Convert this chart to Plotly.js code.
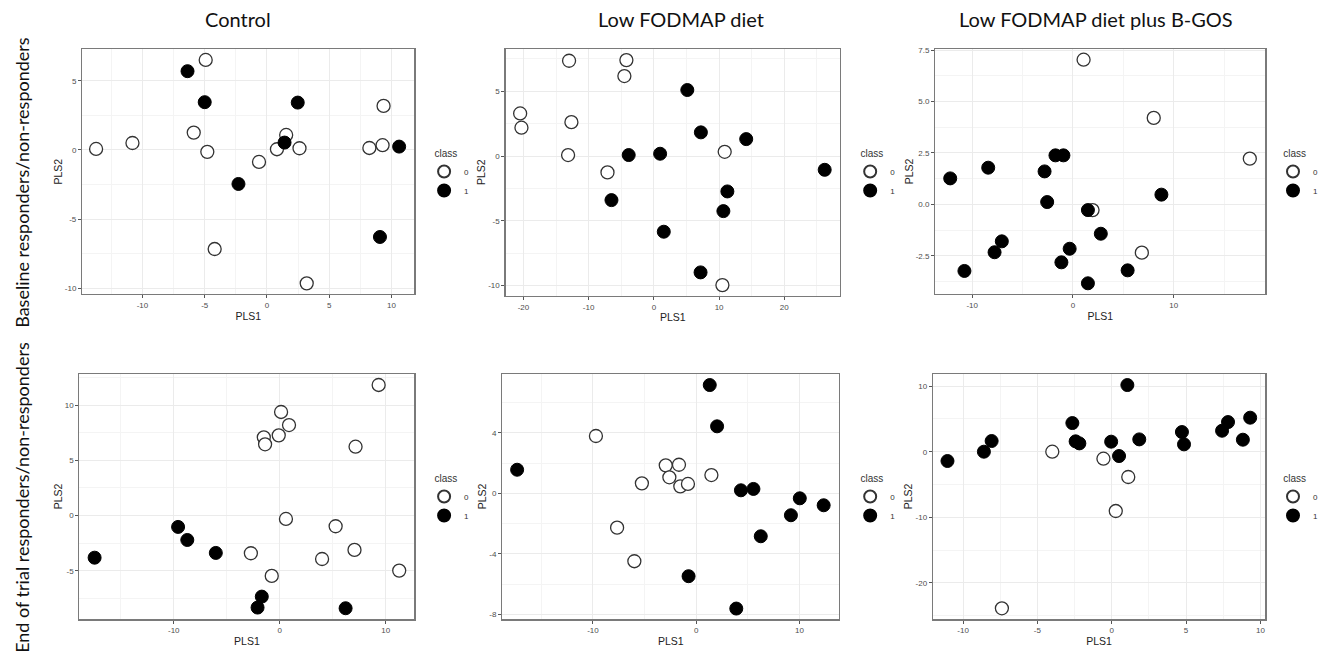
<!DOCTYPE html>
<html>
<head>
<meta charset="utf-8">
<script src="https://cdn.plot.ly/plotly-3.0.1.min.js"></script>
<style>html,body{margin:0;padding:0;background:#fff;}#chart{width:1323px;height:657px;}</style>
</head>
<body>
<div id="chart"></div>
<script>
// ---- Data ----
const panelTitles = ["Control", "Low FODMAP diet", "Low FODMAP diet plus B-GOS"];
const rowLabels = ["Baseline responders/non-responders", "End of trial responders/non-responders"];
const classNames = ["0", "1"];

// Control – baseline
const ctrlBase_x0 = [-13.72, -10.8, -4.92, -5.88, -4.79, -0.64, 0.8, 1.54, 2.61, -4.2, 3.19, 8.22, 9.28, 9.36];
const ctrlBase_y0 = [0.07, 0.5, 6.5, 1.25, -0.14, -0.87, 0.05, 1.08, 0.12, -7.16, -9.64, 0.14, 0.34, 3.18];
const ctrlBase_x1 = [-6.38, -5.0, -2.29, 1.41, 2.47, 10.61, 9.07];
const ctrlBase_y1 = [5.69, 3.45, -2.46, 0.53, 3.42, 0.24, -6.29];

// Low FODMAP – baseline
const lfBase_x0 = [-13.0, -4.21, -4.52, -20.5, -20.3, -12.64, -13.15, 10.86, -7.11, 10.51];
const lfBase_y0 = [7.36, 7.41, 6.18, 3.29, 2.19, 2.62, 0.08, 0.33, -1.26, -9.96];
const lfBase_x1 = [5.13, 7.21, 14.16, -3.86, 0.96, 26.19, -6.5, 11.27, 10.66, 1.52, 7.16];
const lfBase_y1 = [5.10, 1.83, 1.31, 0.08, 0.18, -1.06, -3.40, -2.73, -4.25, -5.84, -8.98];

// Low FODMAP + B-GOS – baseline
const gosBase_x0 = [1.05, 8.01, 17.54, 1.94, 6.83];
const gosBase_y0 = [7.03, 4.20, 2.22, -0.28, -2.35];
const gosBase_x1 = [-1.74, -0.95, -8.41, -12.18, -2.82, 8.77, -2.56, 1.48, 2.76, -7.06, -7.78, -0.33, -1.15, -10.77, 5.42, 1.48];
const gosBase_y1 = [2.38, 2.38, 1.78, 1.26, 1.60, 0.47, 0.11, -0.28, -1.43, -1.80, -2.33, -2.16, -2.82, -3.24, -3.21, -3.84];

// Control – end of trial
const ctrlEnd_x0 = [9.34, 0.13, 0.88, -1.5, -1.38, -0.09, 7.16, 0.59, 5.28, -2.72, 4.0, 7.06, 11.28, -0.75];
const ctrlEnd_y0 = [11.81, 9.37, 8.19, 7.08, 6.45, 7.26, 6.23, -0.30, -0.96, -3.40, -3.92, -3.10, -4.97, -5.45];
const ctrlEnd_x1 = [-17.47, -9.59, -8.72, -6.03, -1.69, -2.09, 6.22];
const ctrlEnd_y1 = [-3.80, -1.02, -2.20, -3.37, -7.32, -8.31, -8.37];

// Low FODMAP – end of trial
const lfEnd_x0 = [-9.71, -2.95, -1.67, -2.6, -5.26, -1.54, -0.8, 1.47, -7.66, -5.99];
const lfEnd_y0 = [3.79, 1.85, 1.89, 1.06, 0.66, 0.46, 0.62, 1.21, -2.27, -4.49];
const lfEnd_x1 = [1.31, 2.02, -17.34, 4.33, 5.54, 10.03, 12.34, 9.17, 6.25, -0.74, 3.88];
const lfEnd_y1 = [7.16, 4.43, 1.56, 0.20, 0.29, -0.33, -0.79, -1.45, -2.84, -5.48, -7.62];

// Low FODMAP + B-GOS – end of trial
const gosEnd_x0 = [-4.0, -0.56, 1.11, 0.27, -7.39];
const gosEnd_y0 = [0, -1.07, -3.86, -9.05, -23.89];
const gosEnd_x1 = [1.05, -2.65, 9.31, 7.82, 7.42, 4.72, 8.82, 1.85, 4.86, -2.43, -2.18, -0.04, -8.08, -8.6, -11.05, 0.49];
const gosEnd_y1 = [10.17, 4.37, 5.19, 4.52, 3.20, 3.0, 1.83, 1.88, 1.12, 1.58, 1.27, 1.53, 1.63, 0, -1.42, -0.66];

// Tick labels
const ticksX1 = [-10, -5, 0, 5, 10];          const ticksY1 = [-10, -5, 0, 5];
const ticksX2 = [-20, -10, 0, 10, 20];        const ticksY2 = [-10, -5, 0, 5];
const ticksX3 = [-10, 0, 10];                 const ticksY3 = [-2.5, 0.0, 2.5, 5.0, 7.5];
const ticksX4 = [-10, 0, 10];                 const ticksY4 = [-5, 0, 5, 10];
const ticksX5 = [-10, 0, 10];                 const ticksY5 = [-8, -4, 0, 4];
const ticksX6 = [-10, -5, 0, 5, 10];          const ticksY6 = [-20, -10, 0, 10];
const tickTextY3 = ["-2.5", "0.0", "2.5", "5.0", "7.5"];

// ---- Layout geometry (pixels) ----
const W = 1323, H = 657;
const panels = [
  {x0: ctrlBase_x0, y0: ctrlBase_y0, x1: ctrlBase_x1, y1: ctrlBase_y1, px: [82.7, 417.3], py: [49.3, 294], xr: [-14.84, 11.84], yr: [-10.41, 7.27], tx: ticksX1, ty: ticksY1, leg: [427, 144]},
  {x0: lfBase_x0, y0: lfBase_y0, x1: lfBase_x1, y1: lfBase_y1, px: [509, 845.7], py: [48.7, 295.7], xr: [-22.74, 28.53], yr: [-10.78, 8.29], tx: ticksX2, ty: ticksY2, leg: [856, 144]},
  {x0: gosBase_x0, y0: gosBase_y0, x1: gosBase_x1, y1: gosBase_y1, px: [941.7, 1274], py: [49, 294], xr: [-13.66, 19.08], yr: [-4.36, 7.55], tx: ticksX3, ty: ticksY3, tty: tickTextY3, leg: [1282, 144]},
  {x0: ctrlEnd_x0, y0: ctrlEnd_y0, x1: ctrlEnd_x1, y1: ctrlEnd_y1, px: [80, 417.3], py: [373.7, 619.3], xr: [-18.9, 12.72], yr: [-9.37, 12.83], tx: ticksX4, ty: ticksY4, leg: [427, 469]},
  {x0: lfEnd_x0, y0: lfEnd_y0, x1: lfEnd_x1, y1: lfEnd_y1, px: [505.7, 845], py: [373.7, 619.3], xr: [-18.78, 13.85], yr: [-8.33, 7.91], tx: ticksX5, ty: ticksY5, leg: [856, 469]},
  {x0: gosEnd_x0, y0: gosEnd_y0, x1: gosEnd_x1, y1: gosEnd_y1, px: [939.3, 1274], py: [373.7, 619.3], xr: [-12.03, 10.33], yr: [-25.57, 11.9], tx: ticksX6, ty: ticksY6, leg: [1282, 469]}
];

function minorVals(t) {
  const out = [];
  const step = t[1] - t[0];
  out.push(t[0] - step / 2);
  for (let i = 0; i < t.length; i++) { out.push(t[i] + step / 2); }
  return out;
}
function lbl(v) { return String(v).replace("\u2212", "-"); }

const traces = [];
const layout = {
  width: W, height: H,
  margin: {l: 0, r: 0, t: 0, b: 0},
  paper_bgcolor: "#ffffff",
  plot_bgcolor: "#ffffff",
  showlegend: true,
  font: {family: "Liberation Sans, Arial, sans-serif", color: "#333333"},
  annotations: [],
  shapes: []
};

const axisCommon = {
  showline: true, mirror: true, linecolor: "#7a7a7a", linewidth: 1.2,
  showgrid: true, gridcolor: "#ebebeb", gridwidth: 1,
  zeroline: false,
  ticks: "outside", ticklen: 3, tickcolor: "#555555", tickwidth: 1,
  tickfont: {size: 8, color: "#4d4d4d", family: "Liberation Sans, Arial, sans-serif"},
  tickmode: "array"
};

panels.forEach((p, i) => {
  const n = i + 1;
  const xa = n === 1 ? "x" : "x" + n;
  const ya = n === 1 ? "y" : "y" + n;
  const legName = n === 1 ? "legend" : "legend" + n;
  traces.push({
    type: "scatter", mode: "markers", x: p.x0, y: p.y0, xaxis: xa, yaxis: ya,
    name: classNames[0], legend: legName,
    marker: {size: 13, color: "#ffffff", line: {color: "#333333", width: 1.3}},
    hoverinfo: "x+y"
  });
  traces.push({
    type: "scatter", mode: "markers", x: p.x1, y: p.y1, xaxis: xa, yaxis: ya,
    name: classNames[1], legend: legName,
    marker: {size: 13, color: "#000000", line: {color: "#000000", width: 1}},
    hoverinfo: "x+y"
  });
  const xKey = n === 1 ? "xaxis" : "xaxis" + n;
  const yKey = n === 1 ? "yaxis" : "yaxis" + n;
  layout[xKey] = Object.assign({}, axisCommon, {
    domain: [p.px[0] / W, p.px[1] / W],
    anchor: ya, range: p.xr,
    tickvals: p.tx, ticktext: p.tx.map(lbl),
    minor: {tickvals: minorVals(p.tx), showgrid: true, gridcolor: "#f4f4f4", gridwidth: 1, ticks: ""},
    title: {text: "PLS1", font: {size: 10.5, color: "#222222"}, standoff: 3}
  });
  layout[yKey] = Object.assign({}, axisCommon, {
    domain: [1 - p.py[1] / H, 1 - p.py[0] / H],
    anchor: xa, range: p.yr,
    tickvals: p.ty, ticktext: p.tty ? p.tty : p.ty.map(lbl),
    minor: {tickvals: minorVals(p.ty), showgrid: true, gridcolor: "#f4f4f4", gridwidth: 1, ticks: ""},
    title: {text: "PLS2", font: {size: 10.5, color: "#222222"}, standoff: 0}
  });
  layout[legName] = {
    x: p.leg[0] / W, y: 1 - p.leg[1] / H, xanchor: "left", yanchor: "top",
    title: {text: "\u00a0\u00a0\u00a0class", font: {size: 10, color: "#333333"}},
    font: {size: 8, color: "#333333"},
    bgcolor: "rgba(0,0,0,0)", borderwidth: 0,
    itemsizing: "constant", itemwidth: 30, tracegroupgap: 0
  };
});

// column titles
const colCenters = [240, 686, 1104];
panelTitles.forEach((t, i) => {
  layout.annotations.push({
    text: t, xref: "paper", yref: "paper", x: colCenters[i] / W, y: 1 - 19 / H,
    xanchor: "center", yanchor: "middle", showarrow: false,
    font: {family: "Lato, Carlito, sans-serif", size: 20, color: "#111111"}
  });
});
// row labels
const rowCenters = [182, 497];
rowLabels.forEach((t, i) => {
  layout.annotations.push({
    text: t, xref: "paper", yref: "paper", x: 22 / W, y: 1 - rowCenters[i] / H,
    xanchor: "center", yanchor: "middle", showarrow: false, textangle: -90,
    font: {family: "Lato, Carlito, sans-serif", size: 18, color: "#111111"}
  });
});

Plotly.newPlot("chart", traces, layout, {displayModeBar: false, staticPlot: true});
</script>
</body>
</html>
